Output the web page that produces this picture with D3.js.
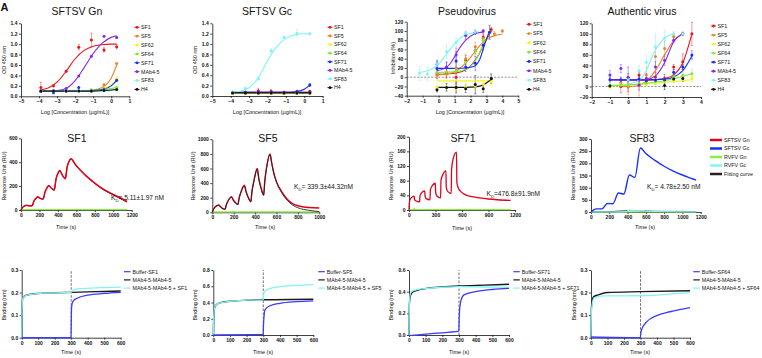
<!DOCTYPE html>
<html><head><meta charset="utf-8">
<script src="https://cdn.jsdelivr.net/npm/d3@7.9.0/dist/d3.min.js"></script>
<style>
html,body{margin:0;padding:0;background:#fff;}
svg{display:block;font-family:"Liberation Sans",Arial,sans-serif;}
</style></head><body>
<svg width="762" height="358"></svg>
<script>
/* ---- series names / colours for the binding + neutralisation panels ---- */
const names  = ['SF1', 'SF5', 'SF62', 'SF64', 'SF71', 'MAb4-5', 'SF83', 'H4'];
const colors = ['#e8141c', '#f0812c', '#f5f51a', '#80e83c', '#1030ff', '#8326f0', '#80f4f4', '#111111'];

/* ---- ELISA SFTSV Gn : points [logC, OD, err] ---- */
const gnPts = [
  [[-3.9,.17,.10],[-3.2,.20,.02],[-2.5,.48,.02],[-1.8,.94,.05],[-1.1,1.08,.13],[-0.4,.89,.04],[0.3,.95,.04]],
  [[-3.9,.10,.02],[-3.2,.11,0],[-2.5,.11,0],[-1.8,.11,0],[-1.1,.12,0],[-0.4,.22,.02],[0.3,.63,.01]],
  [[-3.9,.10,0],[-3.2,.10,0],[-2.5,.10,0],[-1.8,.11,0],[-1.1,.11,0],[-0.4,.15,0],[0.3,.34,.02]],
  [[-3.9,.10,0],[-3.2,.10,0],[-2.5,.10,0],[-1.8,.11,0],[-1.1,.12,0],[-0.4,.15,0],[0.3,.17,.01]],
  [[-3.9,.09,0],[-3.2,.07,0],[-2.5,.10,0],[-1.8,.17,0],[-1.1,.10,0],[-0.4,.13,0],[0.3,.31,.02]],
  [[-3.9,.10,0],[-3.2,.10,0],[-2.5,.15,0],[-1.8,.39,0],[-1.1,.77,0],[-0.4,1.15,0],[0.3,1.13,.02]],
  [[-3.9,.10,0],[-3.2,.10,0],[-2.5,.10,0],[-1.8,.10,0],[-1.1,.10,0],[-0.4,.11,0],[0.3,.12,0]],
  [[-3.9,.10,0],[-3.2,.10,0],[-2.5,.10,0],[-1.8,.10,0],[-1.1,.10,0],[-0.4,.11,0],[0.3,.13,0]]
];
const gnFitX = [-3.9, -3.5, -3, -2.5, -2, -1.5, -1, -0.5, 0, 0.3];
const gnFitY = [
  [.12,.16,.27,.48,.72,.88,.96,.99,1.0,1.0],
  [.10,.10,.10,.10,.10,.11,.12,.17,.35,.60],
  [.10,.10,.10,.10,.10,.10,.11,.14,.22,.33],
  [.10,.10,.10,.10,.10,.10,.11,.13,.15,.17],
  [.10,.10,.10,.10,.10,.10,.11,.13,.20,.30],
  [.10,.10,.11,.15,.30,.55,.82,1.02,1.13,1.16],
  [.10,.10,.10,.10,.10,.10,.10,.10,.11,.12],
  [.10,.10,.10,.10,.10,.10,.10,.11,.12,.13]
];

/* ---- ELISA SFTSV Gc ---- */
const gcPts = [
  [[-3.9,.07,.01],[-3.2,.07,.01],[-2.5,.10,.04],[-1.8,.09,.03],[-1.1,.05,.01],[-0.4,.07,.01],[0.3,.09,.01]],
  [[-3.9,.05,0],[-3.2,.05,0],[-2.5,.05,0],[-1.8,.05,0],[-1.1,.05,0],[-0.4,.05,0],[0.3,.05,0]],
  [[-3.9,.05,0],[-3.2,.05,0],[-2.5,.05,0],[-1.8,.05,0],[-1.1,.05,0],[-0.4,.05,0],[0.3,.05,0]],
  [[-3.9,.06,0],[-3.2,.06,0],[-2.5,.06,0],[-1.8,.06,0],[-1.1,.06,0],[-0.4,.06,0],[0.3,.06,0]],
  [[-3.9,.07,0],[-3.2,.07,0],[-2.5,.07,0],[-1.8,.07,0],[-1.1,.07,0],[-0.4,.09,0],[0.3,.21,.03]],
  [[-3.9,.07,0],[-3.2,.07,0],[-2.5,.07,0],[-1.8,.07,0],[-1.1,.07,0],[-0.4,.07,0],[0.3,.07,0]],
  [[-3.9,.08,.01],[-3.2,.15,.01],[-2.5,.33,.02],[-1.8,.87,.04],[-1.1,1.13,.02],[-0.4,1.21,.07],[0.3,1.20,.02]],
  [[-3.9,.06,0],[-3.2,.06,0],[-2.5,.06,0],[-1.8,.06,0],[-1.1,.06,0],[-0.4,.06,0],[0.3,.06,0]]
];
const gcFitY = [
  [.07,.07,.07,.07,.07,.07,.07,.07,.07,.07],
  [.05,.05,.05,.05,.05,.05,.05,.05,.05,.05],
  [.05,.05,.05,.05,.05,.05,.05,.05,.05,.05],
  [.06,.06,.06,.06,.06,.06,.06,.06,.06,.06],
  [.07,.07,.07,.07,.07,.07,.07,.08,.13,.21],
  [.07,.07,.07,.07,.07,.07,.07,.07,.07,.07],
  [.07,.09,.16,.35,.68,.95,1.11,1.18,1.20,1.20],
  [.06,.06,.06,.06,.06,.06,.06,.06,.06,.06]
];

/* ---- Pseudovirus neutralisation : [logC, %, err] ---- */
const pvPts = [
  [[-0.1,8,10],[0.5,9,10],[1.1,0,15],[1.7,37,10],[2.3,58,8],[2.8,87,8],[3.3,103,5]],
  [[-0.1,4,8],[0.5,7,10],[1.1,19,12],[1.7,40,10],[2.3,66,10],[2.8,84,8],[3.5,94,5],[4.0,100,3]],
  [[-0.1,-22,6],[0.5,-20,6],[1.1,-24,6],[1.7,-20,6],[2.3,-19,6],[2.8,-15,6],[3.3,-10,6]],
  [[-0.1,10,8],[0.5,12,8],[1.1,14,10],[1.7,33,10],[2.3,58,10],[2.8,80,10],[3.2,98,15]],
  [[-0.1,19,15],[0.5,21,12],[1.1,35,20],[1.7,22,10],[2.3,30,15],[2.8,69,10],[3.2,97,15]],
  [[-0.1,28,8],[0.5,22,10],[1.1,48,15],[1.7,90,8],[2.3,97,5],[2.8,100,3]],
  [[-1.2,8,15],[-0.7,7,15],[-0.1,28,10],[0.5,55,15],[1.1,75,10],[1.7,95,5],[2.3,98,3]],
  [[-0.1,-27,5],[0.5,-22,8],[1.1,-22,12],[1.7,-25,8],[2.3,-16,20],[2.8,-25,8],[3.3,-3,10]]
];
const pvFit = [
  [[-0.1,6],[0.5,7],[1.1,9],[1.7,16],[2.1,28],[2.5,48],[2.9,75],[3.3,100]],
  [[-0.1,5],[0.5,7],[1.1,13],[1.6,27],[2.1,47],[2.6,69],[3.1,84],[3.6,91],[4.0,93]],
  [[-0.1,-8],[3.3,-8]],
  [[-0.1,10],[0.5,11],[1.1,12],[1.7,17],[2.2,30],[2.6,55],[2.9,78],[3.2,96]],
  [[-0.1,19],[0.5,19],[1.1,19],[1.7,20],[2.2,23],[2.6,40],[2.9,72],[3.2,100]],
  [[-0.1,14],[0.3,18],[0.7,28],[1.0,44],[1.3,62],[1.7,80],[2.2,93],[2.8,98]],
  [[-1.2,10],[-0.6,15],[0,28],[0.5,50],[1.0,72],[1.5,88],[2.0,95],[2.5,98]],
  [[-0.1,-22],[0.5,-22],[1.1,-22],[1.7,-22],[2.3,-21],[2.8,-17],[3.1,-10],[3.4,-3]]
];

/* ---- Authentic virus neutralisation ---- */
const avPts = [
  [[-0.4,0,12],[0,0,10],[0.6,22,5],[1,12,5],[1.5,18,8],[2,15,8],[2.5,37,5],[3,47,15],[3.5,100,22]],
  [[-0.4,8,8],[0,0,15],[0.6,2,20],[1,22,15],[1.5,57,20],[2,72,15],[2.5,95,5],[3,100,3]],
  [[-1,0,5],[-0.4,3,5],[0,3,5],[0.6,5,5],[1,5,5],[1.5,8,5],[2,10,5],[2.5,12,5],[3,14,5],[3.5,14,5]],
  [[-1,2,3],[-0.4,4,3],[0,3,3],[0.6,5,4],[1,6,4],[1.5,9,5],[2,11,5],[2.5,18,5],[3,21,5],[3.5,24,8]],
  [[-1,13,5],[-0.4,13,5],[0,17,8],[0.6,14,5],[1,11,5],[1.5,12,5],[2,13,5],[2.5,27,5],[3,37,5],[3.5,60,8]],
  [[-1,22,8],[-0.4,34,8],[0,17,20],[0.6,3,10],[1,15,10],[1.5,37,10],[2,50,10],[2.5,88,5],[3,100,3]],
  [[0,13,10],[0.6,30,10],[1,46,15],[1.5,75,25],[2,92,15],[2.5,100,5],[3,100,3]],
  [[-1,1,3],[2,2,8],[2.5,14,5],[3,15,5]]
];
const avFit = [
  [[-0.4,12],[0.5,12],[1,12],[1.5,13],[2,15],[2.5,22],[3,45],[3.5,100]],
  [[-0.4,0],[0,0],[0.6,2],[1,10],[1.5,30],[2,60],[2.5,87],[3,100]],
  [[-1,1],[0,3],[1,5],[2,8],[3,11],[3.5,13]],
  [[-1,2],[0,3],[1,6],[2,11],[3,19],[3.5,24]],
  [[-1,13],[0,13],[1,13],[2,14],[2.5,18],[3,30],[3.5,58]],
  [[-1,12],[0,12],[1,13],[1.5,20],[2,45],[2.5,85],[3,100]],
  [[0,5],[0.5,10],[1,30],[1.3,55],[1.6,75],[2,92],[2.5,100]],
  []
];

/* ---- SPR single-cycle kinetics : [time s, RU] ---- */
const sf1Gn = [[0,0],[15,20],[40,35],[60,40],[90,36],[120,35],[140,75],[165,100],[180,110],[210,97],[240,92],[260,150],[285,190],[300,205],[330,182],[360,168],[380,260],[405,315],[420,330],[450,290],[480,262],[500,360],[525,415],[540,428],[600,370],[700,290],[800,225],[900,170],[1000,130],[1100,92],[1150,70]];
const sf1Fit = [[0,0],[15,18],[40,33],[60,38],[90,35],[120,34],[140,72],[165,98],[180,108],[210,96],[240,90],[260,148],[285,188],[300,202],[330,180],[360,166],[380,258],[405,312],[420,326],[450,288],[480,260],[500,356],[525,410],[540,424],[600,368],[700,288],[800,222],[900,166],[1000,126],[1100,86],[1150,66]];
const sf1Green = [[0,3],[1150,3]];
const sf5Gn = [[0,0],[10,40],[30,80],[60,100],[75,80],[95,55],[120,45],[130,100],[150,165],[180,215],[195,175],[215,135],[240,110],[250,190],[270,290],[300,370],[315,290],[335,210],[360,150],[370,280],[390,440],[420,600],[435,460],[455,340],[480,240],[490,420],[510,640],[540,800],[555,680],[575,540],[600,420],[650,280],[700,180],[750,120],[800,90],[900,65],[1000,58]];
const sf5Fit = [[0,0],[10,35],[30,75],[60,95],[75,75],[95,50],[120,40],[130,95],[150,160],[180,205],[195,165],[215,128],[240,105],[250,185],[270,280],[300,360],[315,280],[335,200],[360,140],[370,270],[390,430],[420,590],[435,450],[455,330],[480,232],[490,410],[510,630],[540,790],[555,670],[575,530],[600,410],[650,265],[700,165],[750,100],[800,62],[900,28],[1000,10]];
const sf5Green = [[0,5],[1000,5]];
const sf71Gn = [[0,0],[5,22],[15,30],[40,36],[58,38],[62,30],[70,26],[100,23],[120,22],[124,38],[140,46],[178,52],[182,38],[195,31],[238,28],[242,55],[260,65],[298,73],[302,48],[315,38],[358,33],[362,80],[380,95],[418,107],[422,62],[440,50],[478,45],[482,110],[500,140],[538,158],[542,75],[555,62],[580,52],[620,44],[700,37],[800,33],[900,30],[1000,28],[1150,26]];
const sf71Green = [[0,1],[55,1],[60,5],[65,1],[1150,1]];
const sf83Gc = [[0,0],[60,13],[120,13],[180,35],[240,34],[300,78],[360,74],[420,152],[480,142],[540,263],[600,240],[700,212],[800,188],[900,168],[1000,152],[1100,138],[1150,131]];
const sf83Cyan = [[0,0],[380,0],[420,8],[480,5],[540,7],[600,3],[1150,1]];
const sf83Fit = [[0,0],[240,2],[300,4],[360,5],[420,6],[540,5],[700,3],[1150,2]];
const sf83Green = [[0,0],[1150,0]];
const sprLegend = ['SFTSV Gn', 'SFTSV Gc', 'RVFV Gn', 'RVFV Gc', 'Fitting curve'];
const sprColors = ['#e3001b', '#1a2eff', '#86f03c', '#7ff6f6', '#222222'];

/* ---- BLI competition : [time s, nm] ---- */
const bli1 = {
  buffer: [[0,0],[299,0],[301,0.10],[303,0.14],[310,0.16],[333,0.174],[400,0.189],[500,0.196],[600,0.201]],
  self:   [[0,0],[2,0.12],[6,0.174],[30,0.189],[100,0.196],[200,0.199],[300,0.201],[400,0.203],[500,0.205],[600,0.207]],
  plus:   [[0,0],[2,0.12],[6,0.174],[30,0.189],[100,0.196],[200,0.199],[300,0.201],[314,0.213],[400,0.219],[500,0.222],[600,0.224]]
};
const bli2 = {
  buffer: [[0,0.0],[299,0.005],[301,0.12],[304,0.22],[310,0.31],[340,0.36],[400,0.39],[500,0.41],[600,0.42]],
  self:   [[0,0],[2,0.2],[5,0.3],[10,0.35],[30,0.39],[100,0.415],[200,0.428],[300,0.433],[600,0.44]],
  plus:   [[0,0],[2,0.2],[5,0.3],[10,0.35],[30,0.39],[100,0.415],[200,0.428],[300,0.433],[302,0.5],[310,0.54],[330,0.565],[400,0.595],[500,0.61],[600,0.62]]
};
const bli3 = {
  buffer: [[0,-0.006],[150,0.015],[299,0.035],[301,0.15],[304,0.24],[312,0.32],[330,0.37],[400,0.4],[500,0.42],[600,0.43]],
  self:   [[0,0],[2,0.28],[10,0.37],[26,0.40],[106,0.43],[200,0.443],[300,0.452],[450,0.46],[600,0.468]],
  plus:   [[0,0],[2,0.3],[10,0.39],[26,0.41],[106,0.43],[200,0.44],[300,0.446],[450,0.443],[600,0.44]]
};
const bli4 = {
  buffer: [[0,0.003],[299,0],[301,0.015],[306,0.034],[337,0.07],[398,0.098],[479,0.115],[600,0.133]],
  self:   [[0,0],[2,0.12],[4,0.145],[14,0.18],[44,0.19],[95,0.2],[300,0.204],[600,0.208]],
  plus:   [[0,0],[2,0.11],[4,0.13],[18,0.175],[75,0.185],[300,0.186],[450,0.192],[600,0.2]]
};
const bliColors = { buffer: '#3b3bff', self: '#1a1a1a', plus: '#80f4f4' };

/* ====================================================================== */
const svg  = d3.select('svg');
const FONT = '"Liberation Sans", Arial, sans-serif';

function frame(c) {
  const x = d3.scaleLinear().domain(c.xd).range(c.xr);
  const y = d3.scaleLinear().domain(c.yd).range(c.yr);
  const g = svg.append('g');
  g.append('g').attr('transform', `translate(0,${c.yr[0]})`)
    .call(d3.axisBottom(x).tickValues(c.xt).tickSize(2).tickSizeOuter(0).tickPadding(1.5)
      .tickFormat(c.xf || d3.format('d')));
  g.append('g').attr('transform', `translate(${c.xr[0]},0)`)
    .call(d3.axisLeft(y).tickValues(c.yt).tickSize(2).tickSizeOuter(0).tickPadding(1.5)
      .tickFormat(c.yf || d3.format('d')));
  g.selectAll('.tick text').attr('font-size', 5).attr('font-weight', 'bold')
    .attr('font-family', FONT).attr('fill', '#111');
  g.selectAll('.domain, .tick line').attr('stroke', '#111').attr('stroke-width', 0.8);
  return { g, x, y };
}

function label(t, x, y, size, opt = {}) {
  const el = svg.append('text').attr('x', x).attr('y', y)
    .attr('font-size', size).attr('font-family', FONT)
    .attr('text-anchor', opt.anchor || 'middle').attr('fill', '#111').text(t);
  if (opt.rotate) el.attr('transform', `rotate(-90,${x},${y})`);
  if (opt.weight) el.attr('font-weight', opt.weight);
  return el;
}

function kd(x, y, rest) {
  const t = svg.append('text').attr('x', x).attr('y', y).attr('font-size', 6.6)
    .attr('font-family', FONT).attr('fill', '#111');
  t.append('tspan').text('K');
  t.append('tspan').attr('font-size', 4.3).attr('dy', 1.6).text('D');
  t.append('tspan').attr('dy', -1.6).text(rest);
}

/* ---- dose-response panel ---- */
function doseResponse(c, pts, fits, leg) {
  const { g, x, y } = frame(c);
  if (c.zero) {
    g.append('line').attr('x1', c.xr[0]).attr('x2', c.xr[1]).attr('y1', y(0)).attr('y2', y(0))
      .attr('stroke', '#444').attr('stroke-width', 0.6).attr('stroke-dasharray', '2,1.5');
  }
  const line = d3.line().x(d => x(d[0])).y(d => y(d[1])).curve(d3.curveMonotoneX);
  pts.forEach((s, i) => {
    s.forEach(p => {
      if (p[2] > 0) {
        const px = x(p[0]);
        g.append('line').attr('x1', px).attr('x2', px).attr('y1', y(p[1] - p[2])).attr('y2', y(p[1] + p[2]))
          .attr('stroke', colors[i]).attr('stroke-width', 0.6).attr('opacity', 0.75);
        [p[1] - p[2], p[1] + p[2]].forEach(v => g.append('line').attr('x1', px - 1).attr('x2', px + 1)
          .attr('y1', y(v)).attr('y2', y(v)).attr('stroke', colors[i]).attr('stroke-width', 0.6).attr('opacity', 0.75));
      }
    });
  });
  fits.forEach((f, i) => {
    if (f.length) g.append('path').attr('d', line(f)).attr('fill', 'none')
      .attr('stroke', colors[i]).attr('stroke-width', 1.1);
  });
  pts.forEach((s, i) => {
    g.selectAll(null).data(s).join('circle')
      .attr('cx', d => x(d[0])).attr('cy', d => y(d[1])).attr('r', 1.5).attr('fill', colors[i]);
  });
  names.forEach((n, i) => {
    const ly = leg.y0 + i * leg.dy;
    g.append('line').attr('x1', leg.x).attr('x2', leg.x + 5).attr('y1', ly).attr('y2', ly)
      .attr('stroke', colors[i]).attr('stroke-width', 1);
    g.append('circle').attr('cx', leg.x + 2.5).attr('cy', ly).attr('r', 1.4).attr('fill', colors[i]);
    g.append('text').attr('x', leg.x + 6.5).attr('y', ly).attr('dy', '0.35em')
      .attr('font-size', 5.3).attr('font-family', FONT).attr('fill', '#111').text(n);
  });
}

/* ---- line panels (SPR / BLI) ---- */
function curves(c, list, curve) {
  const { g, x, y } = frame(c);
  if (c.vline !== undefined) {
    g.append('line').attr('x1', x(c.vline)).attr('x2', x(c.vline)).attr('y1', c.yr[0]).attr('y2', c.yr[1])
      .attr('stroke', '#333').attr('stroke-width', 0.7).attr('stroke-dasharray', '2.5,1.5');
  }
  const line = d3.line().x(d => x(d[0])).y(d => y(d[1])).curve(curve || d3.curveMonotoneX);
  list.forEach(s => g.append('path').attr('d', line(s.data)).attr('fill', 'none')
    .attr('stroke', s.color).attr('stroke-width', s.w || 1.3));
  return { g, x, y };
}

function lineLegend(items, cols, x0, y0, dy, len, w, size) {
  items.forEach((t, i) => {
    const ly = y0 + i * dy;
    svg.append('line').attr('x1', x0).attr('x2', x0 + len).attr('y1', ly).attr('y2', ly)
      .attr('stroke', cols[i]).attr('stroke-width', w);
    svg.append('text').attr('x', x0 + len + 2).attr('y', ly).attr('dy', '0.35em')
      .attr('font-size', size).attr('font-family', FONT).attr('fill', '#111').text(t);
  });
}

/* ================= top row ================= */
const logTicks = [-5, -4, -3, -2, -1, 0, 1];
const odTicks  = [0, 0.2, 0.4, 0.6, 0.8, 1.0, 1.2, 1.4];
const f1 = d3.format('.1f');

doseResponse({ xd: [-5, 1], xr: [21, 129.3], yd: [0, 1.4], yr: [96.3, 23.3], xt: logTicks, yt: odTicks, yf: f1 },
  gnPts, gnFitY.map(r => r.map((v, j) => [gnFitX[j], v])), { x: 134.5, y0: 27.3, dy: 8.87 });
doseResponse({ xd: [-5, 1], xr: [212.3, 322.7], yd: [0, 1.4], yr: [96, 23.3], xt: logTicks, yt: odTicks, yf: f1 },
  gcPts, gcFitY.map(r => r.map((v, j) => [gnFitX[j], v])), { x: 327.5, y0: 27.3, dy: 8.62 });
doseResponse({ xd: [-2, 5], xr: [406.7, 518.3], yd: [-40, 120], yr: [95.7, 21.7],
  xt: [-2, -1, 0, 1, 2, 3, 4, 5], yt: [-40, -20, 0, 20, 40, 60, 80, 100, 120], zero: true },
  pvPts, pvFit, { x: 526.5, y0: 24.3, dy: 9.3 });
doseResponse({ xd: [-2, 4], xr: [591.7, 701], yd: [-20, 120], yr: [97, 23.3],
  xt: [-2, -1, 0, 1, 2, 3, 4], yt: [-20, 0, 20, 40, 60, 80, 100, 120], zero: true },
  avPts, avFit, { x: 711, y0: 26, dy: 9.05 });

label('SFTSV Gn', 77, 14.5, 10.5);
label('SFTSV Gc', 267, 14.5, 10.5);
label('Pseudovirus', 467, 14.5, 10.5);
label('Authentic virus', 642, 14.5, 10.5);
label('A', 4.5, 10.5, 11, { weight: 'bold' });

const concLabel = 'Log [Concentration (\u03bcg/mL)]';
label(concLabel, 75, 114, 5.5);
label(concLabel, 267, 114, 5.5);
label(concLabel, 470, 114, 5.5);
label('OD 450 nm', 6, 60, 5.5, { rotate: true });
label('OD 450 nm', 197, 60, 5.5, { rotate: true });
label('Inhibition (%)', 395, 58, 5.5, { rotate: true });

/* ================= middle row (SPR) ================= */
curves({ xd: [0, 1200], xr: [21, 131.7], yd: [0, 600], yr: [210, 138.3],
  xt: d3.range(0, 1201, 200), yt: [0, 200, 400, 600] },
  [{ data: sf1Green, color: sprColors[2], w: 1.2 }, { data: sf1Fit, color: sprColors[4], w: 1.0 },
   { data: sf1Gn, color: sprColors[0], w: 1.5 }]);
curves({ xd: [0, 1000], xr: [212.3, 319.3], yd: [0, 1000], yr: [212.3, 139.3],
  xt: d3.range(0, 1001, 200), yt: d3.range(0, 1001, 200) },
  [{ data: sf5Green, color: sprColors[2], w: 1.2 }, { data: sf5Gn, color: sprColors[0], w: 1.4 },
   { data: sf5Fit, color: sprColors[4], w: 0.9 }]);
curves({ xd: [0, 1200], xr: [409, 515], yd: [0, 200], yr: [210, 136.7],
  xt: [0, 300, 600, 900, 1200], yt: [0, 40, 80, 120, 160, 200] },
  [{ data: sf71Green, color: sprColors[2], w: 1.2 }, { data: sf71Gn, color: sprColors[0], w: 1.3 }]);
curves({ xd: [0, 1200], xr: [591, 700.7], yd: [0, 300], yr: [212, 139],
  xt: d3.range(0, 1201, 200), yt: d3.range(0, 301, 50) },
  [{ data: sf83Green, color: sprColors[2], w: 1.2 }, { data: sf83Fit, color: '#555', w: 1.0 },
   { data: sf83Cyan, color: sprColors[3], w: 1.2 }, { data: sf83Gc, color: sprColors[1], w: 1.4 }]);

label('SF1', 77, 142, 10.5);
label('SF5', 268, 142, 10.5);
label('SF71', 463, 142, 10.5);
label('SF83', 642, 142, 10.5);
kd(111, 200, '= 5.11\u00b11.97 nM');
kd(294, 189, '= 339.3\u00b144.32nM');
kd(486.5, 196, '=476.8\u00b191.9nM');
kd(647, 189, '= 4.78\u00b12.50 nM');
[[66, 229], [265, 229], [462, 230], [645, 229]].forEach(p => label('Time (s)', p[0], p[1], 5.5));
[[6, 176], [195, 176], [393, 176], [575, 176]].forEach(p => label('Response Unit (RU)', p[0], p[1], 5.5, { rotate: true }));
lineLegend(sprLegend, sprColors, 710, 140, 8.5, 12, 2.5, 5.3);

/* ================= bottom row (BLI) ================= */
const bliSets = [
  { d: bli1, c: { xd: [0, 600], xr: [21.7, 120.7], yd: [0, 0.3], yr: [337.7, 270], yt: [0, 0.1, 0.2, 0.3] }, tag: 'SF1', lx: 124, ax: 71 },
  { d: bli2, c: { xd: [0, 600], xr: [213.3, 313.3], yd: [0, 0.8], yr: [335, 270], yt: [0, 0.2, 0.4, 0.6, 0.8] }, tag: 'SF5', lx: 318.3, ax: 263 },
  { d: bli3, c: { xd: [0, 600], xr: [409, 509], yd: [0, 0.6], yr: [335, 270], yt: [0, 0.2, 0.4, 0.6] }, tag: 'SF71', lx: 513.3, ax: 459 },
  { d: bli4, c: { xd: [0, 600], xr: [591, 690], yd: [0, 0.3], yr: [337.7, 270], yt: [0, 0.1, 0.2, 0.3] }, tag: 'SF64', lx: 693.3, ax: 640 }
];
bliSets.forEach((b, k) => {
  curves(Object.assign({ xt: d3.range(0, 601, 100), yf: f1, vline: 300 }, b.c),
    [{ data: b.d.self, color: bliColors.self, w: 1.4 },
     { data: b.d.plus, color: bliColors.plus, w: 1.3 },
     { data: b.d.buffer, color: bliColors.buffer, w: 1.3 }]);
  lineLegend([`Buffer-${b.tag}`, 'MAb4-5-MAb4-5', `MAb4-5-MAb4-5 + ${b.tag}`],
    [bliColors.buffer, bliColors.self, bliColors.plus], b.lx, 271.7, 8.2, 6.5, 1.2, 5.3);
  label('Time (s)', b.ax, 354, 5.5);
});
[[6, 305], [197, 305], [393, 305], [576, 305]].forEach(p => label('Binding (nm)', p[0], p[1], 5.5, { rotate: true }));
</script></body></html>
